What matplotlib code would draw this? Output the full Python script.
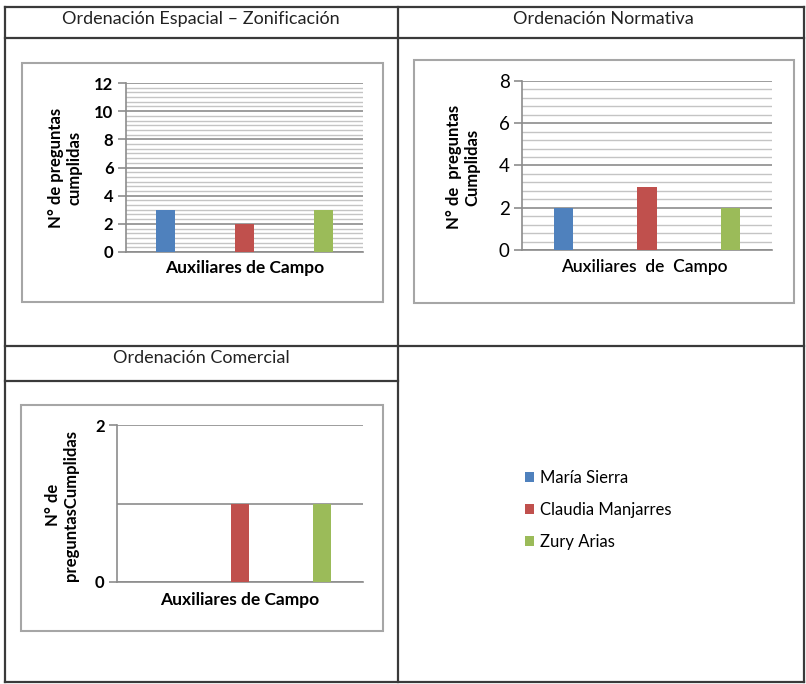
import matplotlib
matplotlib.use("Agg")
from matplotlib import pyplot as plt
from matplotlib.patches import Rectangle, Patch
from matplotlib.lines import Line2D
from matplotlib.ticker import MultipleLocator
import numpy as np

# datos
auxiliares = ["María Sierra", "Claudia Manjarres", "Zury Arias"]
espacial = [3, 2, 3]
normativa = [2, 3, 2]
comercial = [0, 1, 1]
colores = ["#4f81bd", "#c0504d", "#9bbb59"]

titulos = ["Ordenación Espacial – Zonificación", "Ordenación Normativa", "Ordenación Comercial"]

W, H = 806, 684
plt.rcParams["font.family"] = ["Lato", "DejaVu Sans"]
fig = plt.figure(figsize=(W / 100, H / 100), dpi=100)


def caja(x0, y0, x1, y1):
    # pixeles -> fraccion de figura
    return [x0 / W, 1 - y1 / H, (x1 - x0) / W, (y1 - y0) / H]


def linea(x0, y0, x1, y1, color="#3a3a3a", lw=1.6):
    fig.add_artist(Line2D([x0 / W, x1 / W], [1 - y0 / H, 1 - y1 / H], color=color, lw=lw))


# tabla
linea(5, 7, 804, 7)
linea(5, 682, 804, 682)
linea(5, 7, 5, 682)
linea(804, 7, 804, 682)
linea(398, 7, 398, 682)
linea(5, 38, 804, 38)
linea(5, 346, 804, 346)
linea(5, 381, 398, 381)

fig.text(201 / W, 1 - 19 / H, titulos[0], ha="center", va="center", fontsize=13, color="#222222")
fig.text(603 / W, 1 - 19 / H, titulos[1], ha="center", va="center", fontsize=13, color="#222222")
fig.text(201 / W, 1 - 358 / H, titulos[2], ha="center", va="center", fontsize=13, color="#222222")

# marcos grises de cada grafico
for b in [(22, 63, 383, 302), (414, 60, 794, 303), (21, 405, 383, 631)]:
    x0, y0, x1, y1 = b
    fig.add_artist(Rectangle((x0 / W, 1 - y1 / H), (x1 - x0) / W, (y1 - y0) / H,
                             fill=False, edgecolor="#a6a6a6", lw=1.5))


def grafico(pos, valores, ymax, mayor, menor, ylabel, xlabel, negrita, lcx, lcy, xlx, xly, tam, xpeso):
    ax = fig.add_axes(caja(*pos))
    x = np.arange(len(valores))
    ax.bar(x, valores, width=0.23, color=colores, zorder=3)
    ax.set_xlim(-0.5, len(valores) - 0.5)
    ax.set_ylim(0, ymax)
    ax.yaxis.set_major_locator(MultipleLocator(mayor))
    if menor:
        ax.yaxis.set_minor_locator(MultipleLocator(menor))
        ax.grid(which="minor", axis="y", color="#c4c4c4", lw=1.0, zorder=0)
        ax.tick_params(axis="y", which="minor", length=0)
    ax.grid(which="major", axis="y", color="#8c8c8c", lw=1.2, zorder=1)
    ax.set_xticks([])
    for s in ["top", "right"]:
        ax.spines[s].set_visible(False)
    ax.spines["left"].set_color("#8c8c8c")
    ax.spines["bottom"].set_color("#8c8c8c")
    ax.spines["left"].set_linewidth(1.2)
    ax.spines["bottom"].set_linewidth(1.2)
    ax.tick_params(axis="y", which="major", length=6, width=1.2, color="#8c8c8c",
                   labelsize=tam, pad=3)
    for t in ax.get_yticklabels():
        t.set_fontweight("bold" if negrita else "normal")
    ax.set_ylabel(ylabel, fontsize=12, fontweight="bold", linespacing=1.2, va="center")
    ax.yaxis.set_label_coords(lcx, lcy)
    ax.set_xlabel(xlabel, fontsize=12.5, fontweight=xpeso, va="center")
    ax.xaxis.set_label_coords(xlx, xly)
    return ax


grafico((126, 83, 363, 252), espacial, 12, 2, 2 / 6, "N° de preguntas\ncumplidas",
        "Auxiliares de Campo", True, -0.257, 0.5, 0.5, -0.095, 12, "bold")
grafico((522, 81, 772, 250), normativa, 8, 2, 0.4, "N° de  preguntas\nCumplidas",
        "Auxiliares  de  Campo", False, -0.236, 0.49, 0.49, -0.10, 13.5, "semibold")
ax3 = grafico((117, 425, 363, 582), comercial, 2, 2, None, "N° de\npreguntasCumplidas",
              "Auxiliares de Campo", True, -0.224, 0.49, 0.5, -0.115, 12, "bold")
ax3.axhline(1, color="#8c8c8c", lw=1.2, zorder=1)

# leyenda
manejadores = [Patch(facecolor=c, label=n) for c, n in zip(colores, auxiliares)]
fig.legend(handles=manejadores, loc="center left", bbox_to_anchor=(510 / W, 1 - 510 / H),
           frameon=False, fontsize=12, handlelength=0.55, handleheight=0.55,
           handletextpad=0.35, labelspacing=0.95)

fig.savefig("out.png", dpi=100)
